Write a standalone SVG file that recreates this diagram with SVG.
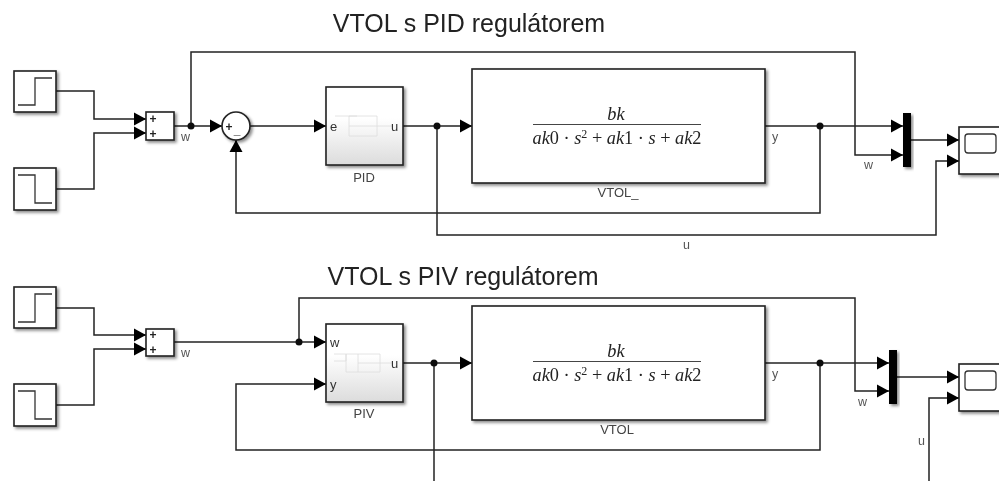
<svg xmlns="http://www.w3.org/2000/svg" width="999" height="481" viewBox="0 0 999 481">
<defs>
<marker id="a" markerUnits="userSpaceOnUse" markerWidth="13" markerHeight="14" refX="12" refY="7" orient="auto"><path d="M0 0.500L12 7L0 13.500Z" fill="#000"/></marker>
<filter id="s" x="-20%" y="-20%" width="150%" height="150%"><feDropShadow dx="2" dy="2" stdDeviation="1.5" flood-color="#000" flood-opacity="0.45"/></filter>
<filter id="soft" x="0" y="0" width="100%" height="100%" filterUnits="userSpaceOnUse"><feGaussianBlur stdDeviation="0.4"/></filter>
<linearGradient id="g" x1="0" y1="0" x2="0" y2="1"><stop offset="0.4" stop-color="#fff"/><stop offset="1" stop-color="#dcdcdc"/></linearGradient>
</defs>
<style>
.b{fill:#fff;stroke:#222;stroke-width:1.6;filter:url(#s)}
.gb{fill:url(#g);stroke:#222;stroke-width:1.6;filter:url(#s)}
.w{fill:none;stroke:#222;stroke-width:1.5}
.wa{fill:none;stroke:#222;stroke-width:1.5;marker-end:url(#a)}
.i{fill:none;stroke:#333;stroke-width:1.3}
.l{font:12.5px "Liberation Sans",Arial,sans-serif;fill:#555}
.n{font:13px "Liberation Sans",Arial,sans-serif;fill:#444;text-anchor:middle}
.t{font:25px "Liberation Sans",Arial,sans-serif;fill:#222;text-anchor:middle}
.p{font:13px "Liberation Sans",Arial,sans-serif;fill:#333}
.m{font:italic 18.300px "Liberation Serif","Times New Roman",serif;fill:#222;text-anchor:middle}
.m tspan{font-style:normal}
.s{font:bold 12px "Liberation Sans",Arial,sans-serif;fill:#222;text-anchor:middle}
.f{fill:none;stroke:#ddd;stroke-width:0.8}
.d{fill:#111}
</style>
<g filter="url(#soft)">
<text class="t" x="469" y="32">VTOL s PID regulátorem</text>
<text class="t" x="463" y="285">VTOL s PIV regulátorem</text>
<g id="connectors">
<path class="wa" d="M56 91H94V119H146"/>
<path class="wa" d="M56 189H94V133H146"/>
<path class="wa" d="M174 126H222"/>
<path class="wa" d="M250 126H326"/>
<path class="wa" d="M403 126H472"/>
<path class="wa" d="M765 126H903"/>
<path class="wa" d="M191 126V52H855V155H903"/>
<path class="wa" d="M820 126V213H236V140"/>
<path class="wa" d="M911 140H959"/>
<path class="wa" d="M437 126V235H936V161H959"/>
<circle class="d" cx="191" cy="126" r="3.500"/>
<circle class="d" cx="437" cy="126" r="3.500"/>
<circle class="d" cx="820" cy="126" r="3.500"/>
<path class="wa" d="M56 308H94V335H146"/>
<path class="wa" d="M56 405H94V349H146"/>
<path class="wa" d="M174 342H326"/>
<path class="wa" d="M299 342V298H855V391H889"/>
<path class="wa" d="M403 363H472"/>
<path class="wa" d="M765 363H889"/>
<path class="wa" d="M820 363V450H236V384H326"/>
<path class="wa" d="M897 377H959"/>
<path class="w" d="M434 363V481"/>
<path class="wa" d="M929 481V398H959"/>
<circle class="d" cx="299" cy="342" r="3.500"/>
<circle class="d" cx="434" cy="363" r="3.500"/>
<circle class="d" cx="820" cy="363" r="3.500"/>
</g>
<g id="step1"><rect class="b" x="14" y="71" width="42" height="41"/><path class="i" d="M18 105H35V78H52"/></g>
<g id="step2"><rect class="b" x="14" y="168" width="42" height="42"/><path class="i" d="M18 175H35V203H52"/></g>
<g id="sum1"><rect class="b" x="146" y="112" width="28" height="28"/><text class="s" x="153" y="123">+</text><text class="s" x="153" y="138">+</text></g>
<text class="l" x="181" y="141">w</text>
<g id="diff"><circle class="b" cx="236" cy="126" r="14"/><text class="s" x="229" y="131">+</text><text class="s" x="237" y="134">_</text></g>
<g id="pid"><rect class="gb" x="326" y="87" width="77" height="78"/>
<path class="f" d="M335 116H357M349 116V136M349 116H377V136H349M349 126H392"/>
<text class="p" x="330" y="131">e</text><text class="p" x="391" y="131">u</text>
<text class="n" x="364" y="182">PID</text></g>
<g id="vtol1"><rect class="b" x="472" y="69" width="293" height="114"/>
<text class="m" x="616" y="120">bk</text><path d="M533 124.500H701" stroke="#444" stroke-width="1.200"/>
<text class="m" x="617" y="144">ak<tspan>0 · </tspan>s<tspan dy="-6" style="font-size:12px">2</tspan><tspan dy="6"> + </tspan>ak<tspan>1 · </tspan>s<tspan> + </tspan>ak<tspan>2</tspan></text>
<text class="n" x="618" y="197">VTOL_</text></g>
<text class="l" x="772" y="141">y</text>
<text class="l" x="864" y="169">w</text>
<g id="mux1"><rect x="903" y="113" width="8" height="54" fill="#000" filter="url(#s)"/></g>
<g id="scope1"><rect class="b" x="959" y="127" width="44" height="47"/><rect class="i" x="965" y="134" width="31" height="19" rx="3" stroke-width="1.500"/></g>
<text class="l" x="683" y="249">u</text>
<g id="step3"><rect class="b" x="14" y="287" width="42" height="41"/><path class="i" d="M18 322H35V294H52"/></g>
<g id="step4"><rect class="b" x="14" y="384" width="42" height="42"/><path class="i" d="M18 391H35V419H52"/></g>
<g id="sum2"><rect class="b" x="146" y="329" width="28" height="27"/><text class="s" x="153" y="339">+</text><text class="s" x="153" y="354">+</text></g>
<text class="l" x="181" y="357">w</text>
<g id="piv"><rect class="gb" x="326" y="324" width="77" height="78"/>
<path class="f" d="M334 354H358M334 361H346V354M346 354V372H380V354H358V372M358 363H392"/>
<text class="p" x="330" y="347">w</text><text class="p" x="330" y="389">y</text><text class="p" x="391" y="368">u</text>
<text class="n" x="364" y="418">PIV</text></g>
<g id="vtol2"><rect class="b" x="472" y="306" width="293" height="114"/>
<text class="m" x="616" y="357">bk</text><path d="M533 361.500H701" stroke="#444" stroke-width="1.200"/>
<text class="m" x="617" y="381">ak<tspan>0 · </tspan>s<tspan dy="-6" style="font-size:12px">2</tspan><tspan dy="6"> + </tspan>ak<tspan>1 · </tspan>s<tspan> + </tspan>ak<tspan>2</tspan></text>
<text class="n" x="617" y="434">VTOL</text></g>
<text class="l" x="772" y="378">y</text>
<text class="l" x="858" y="406">w</text>
<g id="mux2"><rect x="889" y="350" width="8" height="54" fill="#000" filter="url(#s)"/></g>
<g id="scope2"><rect class="b" x="959" y="364" width="44" height="47"/><rect class="i" x="965" y="371" width="31" height="19" rx="3" stroke-width="1.500"/></g>
<text class="l" x="918" y="445">u</text>
</g>
</svg>
